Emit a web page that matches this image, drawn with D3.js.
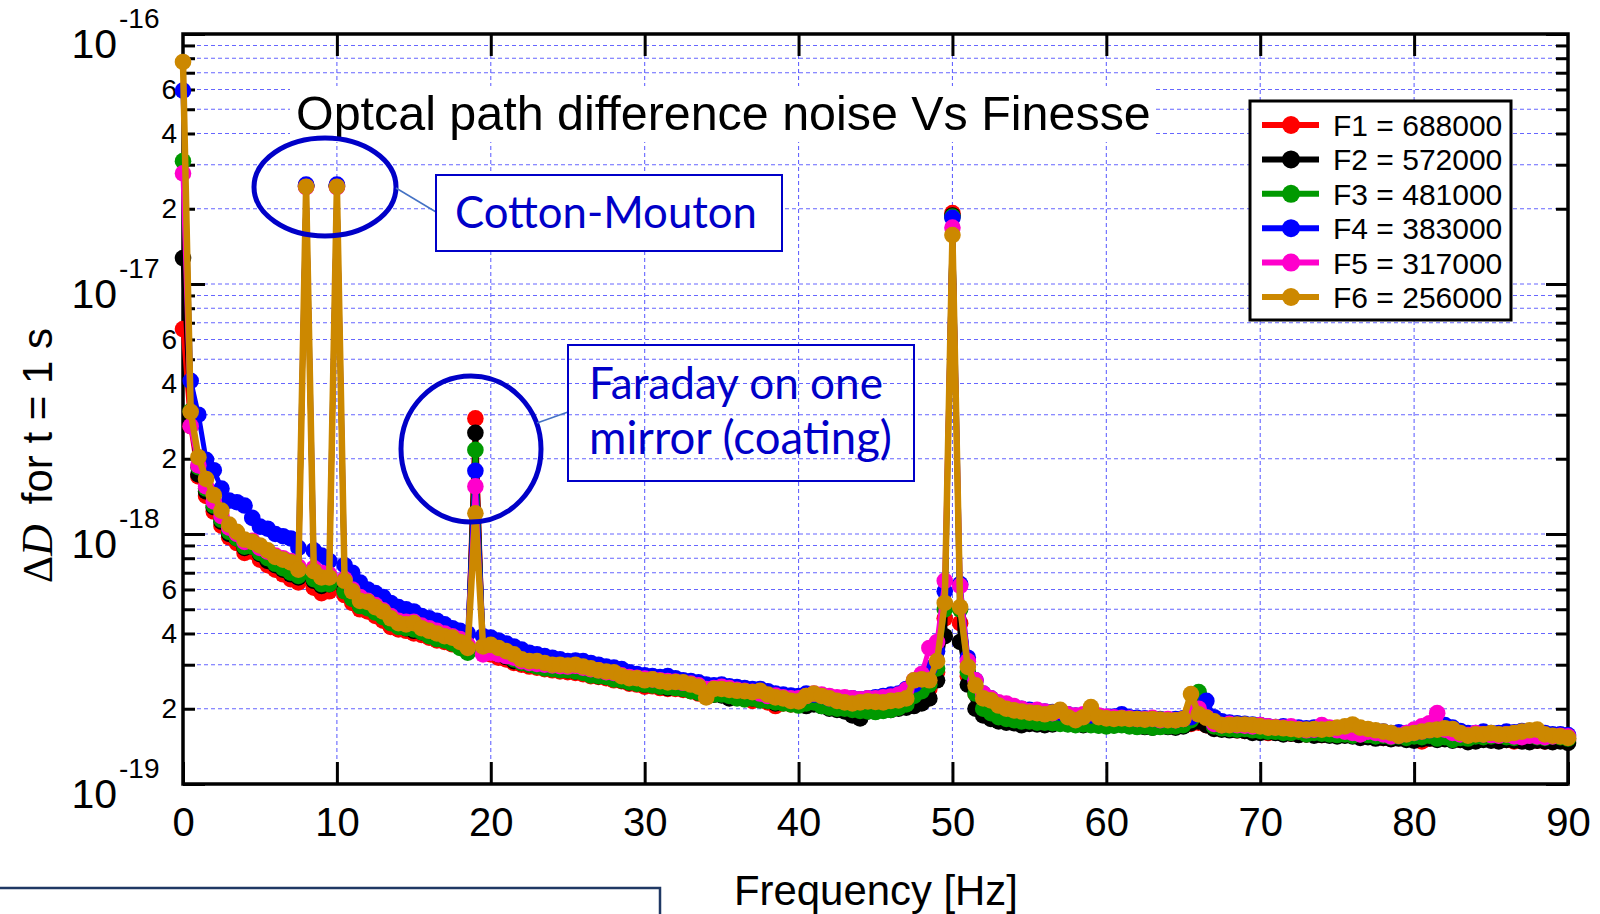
<!DOCTYPE html>
<html><head><meta charset="utf-8">
<script src="https://cdn.jsdelivr.net/npm/d3@7"></script>
<style>
body{margin:0;background:#fff;}
svg{display:block;font-family:Arial,"Liberation Sans",sans-serif;}
</style>
</head><body>
<svg id="chart" width="1600" height="914"></svg>
<script>
// ---------- data (values in units of 1e-19) ----------
const UNIT = 1e-19;
const frequencies = d3.range(0, 90.0001, 0.5); // sampling grid 0..90 Hz, 0.5 Hz step
const seriesNames = ["F1 = 688000","F2 = 572000","F3 = 481000","F4 = 383000","F5 = 317000","F6 = 256000"];
const seriesColors = ["#ff0000","#000000","#009900","#0000ff","#ff00cc","#cc8800"];
const xTicks = [0,10,20,30,40,50,60,70,80,90];
const yDecades = [1e-19,1e-18,1e-17,1e-16];
const yMinorLabels = [2,4,6];

const F1 = [
 66, 27, 17, 14.2, 12.3, 10.8, 9.7, 9.2, 8.4, 8.5,
 7.9, 7.5, 7.2, 6.9, 6.6, 6.4, 248, 6.1, 5.8, 5.9,
 248, 5.7, 5.3, 5.0, 4.9, 4.7, 4.5, 4.25, 4.15, 4.1,
 4.0, 3.95, 3.85, 3.75, 3.7, 3.62, 3.55, 3.4, 29, 3.35,
 3.3, 3.2, 3.15, 3.05, 3.0, 2.95, 2.92, 2.88, 2.85, 2.82,
 2.8, 2.78, 2.75, 2.7, 2.68, 2.65, 2.6, 2.58, 2.52, 2.5,
 2.45, 2.46, 2.42, 2.4, 2.4, 2.38, 2.35, 2.3, 2.25, 2.28,
 2.27, 2.25, 2.22, 2.2, 2.15, 2.18, 2.12, 2.05, 2.1, 2.08,
 2.07, 2.1, 2.12, 2.08, 2.05, 2.03, 2.0, 2.0, 2.02, 2.0,
 1.98, 2.0, 2.02, 2.05, 2.1, 2.15, 2.3, 2.4, 2.8, 4.6,
 192, 4.4, 2.7, 2.3, 2.1, 2.0, 1.95, 1.9, 1.88, 1.85,
 1.83, 1.82, 1.8, 1.8, 1.78, 1.77, 1.76, 1.75, 1.77, 1.76,
 1.75, 1.74, 1.74, 1.73, 1.72, 1.73, 1.72, 1.71, 1.72, 1.71,
 1.72, 1.74, 1.76, 1.72, 1.68, 1.66, 1.65, 1.64, 1.63, 1.63,
 1.62, 1.6, 1.61, 1.6, 1.59, 1.58, 1.58, 1.59, 1.57, 1.58,
 1.58, 1.57, 1.56, 1.57, 1.55, 1.54, 1.53, 1.52, 1.53, 1.52,
 1.5, 1.48, 1.52, 1.53, 1.52, 1.51, 1.5, 1.5, 1.52, 1.51,
 1.5, 1.49, 1.5, 1.48, 1.49, 1.5, 1.49, 1.48, 1.5, 1.49,
 1.5];
const F2 = [
 127, 29, 17.3, 14.8, 12.8, 11.2, 10.0, 9.6, 8.8, 8.9,
 8.3, 7.8, 7.5, 7.2, 6.9, 6.7, 246, 6.5, 6.2, 6.3,
 246, 6.0, 5.6, 5.2, 5.1, 4.9, 4.7, 4.45, 4.3, 4.2,
 4.1, 4.05, 3.95, 3.85, 3.8, 3.72, 3.6, 3.45, 25.4, 3.45,
 3.4, 3.3, 3.22, 3.1, 3.05, 3.0, 2.97, 2.92, 2.9, 2.88,
 2.85, 2.82, 2.8, 2.75, 2.7, 2.68, 2.65, 2.6, 2.55, 2.53,
 2.5, 2.5, 2.45, 2.42, 2.44, 2.4, 2.38, 2.32, 2.3, 2.28,
 2.26, 2.2, 2.24, 2.22, 2.2, 2.2, 2.15, 2.1, 2.12, 2.1,
 2.1, 2.05, 2.08, 2.05, 2.0, 1.98, 1.95, 1.88, 1.83, 1.95,
 1.95, 1.97, 1.98, 2.0, 2.02, 2.05, 2.1, 2.2, 2.6, 3.9,
 188, 3.7, 2.5, 2.0, 1.88, 1.82, 1.78, 1.76, 1.75, 1.72,
 1.74, 1.73, 1.72, 1.73, 1.75, 1.74, 1.73, 1.72, 1.74, 1.72,
 1.71, 1.72, 1.73, 1.72, 1.7, 1.69, 1.68, 1.7, 1.69, 1.68,
 1.7, 1.75, 1.78, 1.72, 1.66, 1.65, 1.64, 1.64, 1.63, 1.6,
 1.6, 1.61, 1.6, 1.58, 1.59, 1.57, 1.58, 1.56, 1.57, 1.56,
 1.55, 1.56, 1.55, 1.53, 1.54, 1.52, 1.53, 1.51, 1.52, 1.5,
 1.49, 1.51, 1.52, 1.5, 1.51, 1.49, 1.5, 1.47, 1.48, 1.5,
 1.49, 1.48, 1.5, 1.49, 1.48, 1.47, 1.49, 1.48, 1.47, 1.48,
 1.46];
const F3 = [
 310, 31, 18.5, 15.2, 13.0, 11.4, 10.2, 9.6, 8.9, 8.9,
 8.4, 8.0, 7.6, 7.3, 7.0, 6.8, 247, 6.6, 6.3, 6.3,
 247, 5.9, 5.5, 5.15, 5.05, 4.85, 4.65, 4.4, 4.25, 4.2,
 4.15, 4.05, 3.9, 3.8, 3.75, 3.65, 3.5, 3.35, 21.7, 3.4,
 3.45, 3.35, 3.25, 3.15, 3.05, 3.0, 2.95, 2.9, 2.88, 2.85,
 2.85, 2.82, 2.78, 2.72, 2.7, 2.68, 2.62, 2.6, 2.55, 2.52,
 2.5, 2.48, 2.45, 2.44, 2.42, 2.4, 2.35, 2.32, 2.3, 2.28,
 2.28, 2.25, 2.2, 2.18, 2.2, 2.16, 2.15, 2.12, 2.1, 2.08,
 2.06, 2.1, 2.12, 2.05, 2.02, 2.0, 2.0, 1.98, 1.96, 1.95,
 1.94, 1.96, 1.98, 2.02, 2.08, 2.25, 2.35, 2.5, 2.9, 5.0,
 186, 5.0, 2.8, 2.3, 2.0, 1.92, 1.85, 1.82, 1.8, 1.78,
 1.78, 1.76, 1.76, 1.75, 1.74, 1.73, 1.72, 1.73, 1.72, 1.71,
 1.7, 1.71, 1.72, 1.7, 1.69, 1.7, 1.68, 1.69, 1.7, 1.7,
 1.72, 1.8, 2.33, 1.9, 1.7, 1.67, 1.66, 1.65, 1.66, 1.64,
 1.63, 1.62, 1.62, 1.6, 1.6, 1.62, 1.58, 1.6, 1.59, 1.58,
 1.57, 1.58, 1.56, 1.58, 1.57, 1.55, 1.56, 1.54, 1.55, 1.53,
 1.55, 1.54, 1.56, 1.52, 1.54, 1.5, 1.53, 1.52, 1.55, 1.54,
 1.55, 1.56, 1.54, 1.53, 1.55, 1.56, 1.54, 1.53, 1.55, 1.54,
 1.52];
const F4 = [
 594, 41, 30, 19.8, 18, 15.2, 13.6, 13.4, 13.0, 11.6,
 10.7, 10.5, 10.0, 9.8, 9.6, 8.8, 250, 8.6, 8.2, 7.8,
 250, 7.5, 7.0, 6.4, 6.0, 5.8, 5.6, 5.3, 5.1, 5.0,
 4.9, 4.7, 4.6, 4.5, 4.35, 4.2, 4.1, 4.0, 17.9, 3.9,
 3.85, 3.75, 3.65, 3.55, 3.45, 3.35, 3.3, 3.25, 3.2, 3.15,
 3.1, 3.12, 3.1, 3.05, 3.0, 2.95, 2.92, 2.88, 2.8, 2.75,
 2.72, 2.7, 2.68, 2.7, 2.65, 2.6, 2.58, 2.55, 2.5, 2.48,
 2.5, 2.46, 2.44, 2.42, 2.4, 2.4, 2.35, 2.3, 2.28, 2.26,
 2.25, 2.3, 2.28, 2.25, 2.2, 2.18, 2.15, 2.2, 2.18, 2.2,
 2.22, 2.25, 2.28, 2.3, 2.4, 2.5, 2.65, 2.9, 3.4, 5.9,
 184, 6.3, 3.2, 2.6, 2.3, 2.2, 2.1, 2.05, 2.02, 2.0,
 1.98, 1.96, 1.95, 1.94, 1.93, 1.9, 1.88, 1.87, 1.88, 1.86,
 1.85, 1.86, 1.9, 1.85, 1.84, 1.83, 1.82, 1.82, 1.81, 1.82,
 1.83, 1.85, 2.0, 2.15, 1.85, 1.78, 1.76, 1.75, 1.74, 1.73,
 1.72, 1.7, 1.69, 1.7, 1.68, 1.68, 1.67, 1.68, 1.7, 1.67,
 1.66, 1.65, 1.66, 1.65, 1.64, 1.63, 1.62, 1.6, 1.61, 1.6,
 1.6, 1.62, 1.64, 1.68, 1.72, 1.68, 1.63, 1.6, 1.6, 1.62,
 1.6, 1.6, 1.62, 1.61, 1.63, 1.6, 1.6, 1.6, 1.58, 1.58,
 1.57];
const F5 = [
 277, 27, 18.8, 15.5, 13.5, 11.8, 10.6, 10.0, 9.3, 9.4,
 8.8, 8.5, 8.2, 8.0, 7.8, 7.4, 244, 7.3, 7.0, 6.9,
 244, 6.6, 6.0, 5.6, 5.4, 5.2, 4.95, 4.7, 4.5, 4.45,
 4.45, 4.3, 4.2, 4.1, 4.0, 3.9, 3.8, 3.6, 15.5, 3.3,
 3.35, 3.3, 3.25, 3.2, 3.1, 3.05, 3.02, 3.0, 2.98, 2.96,
 2.95, 2.97, 2.92, 2.88, 2.85, 2.8, 2.78, 2.72, 2.68, 2.66,
 2.64, 2.62, 2.6, 2.58, 2.57, 2.54, 2.52, 2.48, 2.4, 2.42,
 2.45, 2.42, 2.38, 2.36, 2.34, 2.3, 2.25, 2.26, 2.22, 2.2,
 2.2, 2.25, 2.3, 2.28, 2.25, 2.22, 2.22, 2.2, 2.18, 2.2,
 2.2, 2.22, 2.24, 2.28, 2.38, 2.6, 2.75, 3.5, 3.7, 6.5,
 168, 6.2, 3.1, 2.6, 2.3, 2.2, 2.12, 2.1, 2.05, 2.0,
 1.96, 1.98, 1.95, 1.92, 1.96, 1.9, 1.88, 1.9, 1.92, 1.88,
 1.86, 1.85, 1.84, 1.83, 1.82, 1.82, 1.84, 1.8, 1.82, 1.8,
 1.82, 1.95, 2.0, 1.85, 1.74, 1.72, 1.74, 1.72, 1.71, 1.7,
 1.72, 1.7, 1.69, 1.68, 1.7, 1.66, 1.64, 1.65, 1.72, 1.68,
 1.64, 1.62, 1.6, 1.58, 1.62, 1.6, 1.58, 1.55, 1.56, 1.6,
 1.65, 1.7, 1.75, 1.92, 1.65, 1.6, 1.58, 1.57, 1.6, 1.58,
 1.57, 1.56, 1.58, 1.55, 1.54, 1.56, 1.55, 1.54, 1.55, 1.56,
 1.55];
const F6 = [
 773, 30.8, 20.3, 16.6, 14.3, 12.4, 10.9, 10.2, 9.5, 9.3,
 9.0, 8.6, 8.1, 7.9, 7.7, 7.2, 245, 7.1, 6.7, 6.7,
 245, 6.5, 5.9, 5.4, 5.35, 5.1, 4.9, 4.6, 4.4, 4.35,
 4.4, 4.2, 4.1, 4.0, 3.9, 3.85, 3.7, 3.5, 12.1, 3.55,
 3.6, 3.5, 3.4, 3.3, 3.15, 3.1, 3.1, 3.05, 3.0, 3.0,
 2.98, 3.0, 2.95, 2.9, 2.85, 2.82, 2.8, 2.7, 2.65, 2.65,
 2.6, 2.62, 2.58, 2.55, 2.56, 2.55, 2.5, 2.45, 2.22, 2.4,
 2.4, 2.38, 2.36, 2.35, 2.33, 2.36, 2.28, 2.22, 2.2, 2.15,
 2.14, 2.25, 2.3, 2.25, 2.2, 2.15, 2.12, 2.1, 2.12, 2.14,
 2.13, 2.12, 2.15, 2.16, 2.2, 2.6, 2.62, 2.6, 3.1, 5.3,
 157, 5.1, 2.94, 2.48, 2.2, 2.16, 2.06, 2.0, 1.97, 1.95,
 1.93, 1.92, 1.9, 1.93, 1.98, 1.85, 1.8, 1.85, 2.03, 1.85,
 1.83, 1.82, 1.83, 1.82, 1.82, 1.81, 1.82, 1.81, 1.8, 1.8,
 1.82, 2.29, 1.9, 1.84, 1.78, 1.72, 1.72, 1.73, 1.73, 1.72,
 1.7, 1.68, 1.68, 1.67, 1.66, 1.65, 1.65, 1.66, 1.65, 1.66,
 1.68, 1.7, 1.73, 1.68, 1.66, 1.64, 1.62, 1.6, 1.56, 1.58,
 1.6, 1.62, 1.64, 1.65, 1.67, 1.66, 1.6, 1.56, 1.58, 1.58,
 1.6, 1.58, 1.58, 1.6, 1.62, 1.64, 1.65, 1.58, 1.56, 1.55,
 1.53];
const seriesValues = [F1, F2, F3, F4, F5, F6];

// ---------- layout ----------
const svg = d3.select("#chart");
const L = 183, R = 1568, T = 34, B = 784;
const x = d3.scaleLinear().domain([0, 90]).range([L, R]);
const y = d3.scaleLog().domain([1e-19, 1e-16]).range([B, T]);

const minorVals = [];
yDecades.slice(0, 3).forEach(d => { for (let k = 2; k <= 9; k++) minorVals.push(d * k); });
const gridY = minorVals.concat([1e-18, 1e-17]);

// gridlines
const grid = svg.append("g").attr("stroke", "#6666ff").attr("stroke-width", 1.1).attr("stroke-dasharray", "4 3");
grid.selectAll(".gy").data(gridY).join("line")
  .attr("x1", L).attr("x2", R).attr("y1", d => y(d)).attr("y2", d => y(d));
grid.selectAll(".gx").data(xTicks.slice(1, -1)).join("line")
  .attr("x1", d => x(d)).attr("x2", d => x(d)).attr("y1", T).attr("y2", B);

// axes (ticks inward)
function styleAxis(g){ g.select(".domain").remove(); g.selectAll(".tick line").attr("stroke","#000").attr("stroke-width",3); }
svg.append("g").attr("transform", `translate(0,${B})`)
  .call(d3.axisBottom(x).tickValues(xTicks).tickSizeInner(-22).tickSizeOuter(0).tickPadding(24).tickFormat(d3.format("d")))
  .call(styleAxis)
  .call(g => g.selectAll(".tick text").attr("font-size", 40).attr("font-family", "Arial, 'Liberation Sans', sans-serif").attr("fill", "#000"));
svg.append("g").attr("transform", `translate(0,${T})`)
  .call(d3.axisTop(x).tickValues(xTicks.slice(1, -1)).tickSizeInner(-22).tickSizeOuter(0).tickFormat(""))
  .call(styleAxis);
svg.append("g").attr("transform", `translate(${L},0)`)
  .call(d3.axisLeft(y).tickValues(yDecades).tickSizeInner(-22).tickSizeOuter(0).tickFormat(""))
  .call(styleAxis);
svg.append("g").attr("transform", `translate(${L},0)`)
  .call(d3.axisLeft(y).tickValues(minorVals).tickSizeInner(-12).tickSizeOuter(0).tickPadding(6)
    .tickFormat(d => { const m = Math.round(d / Math.pow(10, Math.floor(Math.log10(d) + 1e-9))); return yMinorLabels.includes(m) ? String(m) : ""; }))
  .call(styleAxis)
  .call(g => g.selectAll(".tick text").attr("font-size", 28).attr("font-family", "Arial, 'Liberation Sans', sans-serif").attr("fill", "#000"));
svg.append("g").attr("transform", `translate(${R},0)`)
  .call(d3.axisRight(y).tickValues(yDecades).tickSizeInner(-22).tickSizeOuter(0).tickFormat(""))
  .call(styleAxis);
svg.append("g").attr("transform", `translate(${R},0)`)
  .call(d3.axisRight(y).tickValues(minorVals).tickSizeInner(-12).tickSizeOuter(0).tickFormat(""))
  .call(styleAxis);

// decade labels 10^n
const dec = svg.append("g");
yDecades.forEach(d => {
  const yy = y(d);
  dec.append("text").attr("x", 117).attr("y", yy + 24).attr("text-anchor", "end").attr("font-size", 41).text("10");
  dec.append("text").attr("x", 119).attr("y", yy - 6).attr("font-size", 28).text(String(Math.round(Math.log10(d))));
});

// frame
svg.append("rect").attr("x", L).attr("y", T).attr("width", R - L).attr("height", B - T)
  .attr("fill", "none").attr("stroke", "#000").attr("stroke-width", 3.5);

// series
const line = d3.line().x((d, i) => x(frequencies[i])).y(d => y(d * UNIT));
seriesValues.forEach((vals, s) => {
  const g = svg.append("g");
  g.append("path").attr("d", line(vals)).attr("fill", "none").attr("stroke", seriesColors[s])
    .attr("stroke-width", s === 5 ? 6.5 : 5).attr("stroke-linejoin", "round");
  g.selectAll("circle").data(vals).join("circle")
    .attr("cx", (d, i) => x(frequencies[i])).attr("cy", d => y(d * UNIT)).attr("r", 8.3)
    .attr("fill", seriesColors[s]);
});

// helper: fit text to width by scaling font size
function fit(sel, w){ const len = sel.node().getComputedTextLength(); const fs = parseFloat(sel.attr("font-size")); sel.attr("font-size", fs * w / len); return sel; }

// title
svg.append("rect").attr("x", 290).attr("y", 86).attr("width", 866).attr("height", 56).attr("fill", "#fff");
fit(svg.append("text").attr("x", 296).attr("y", 130).attr("font-size", 44).text("Optcal path difference noise Vs Finesse"), 855);

// annotations
const blue = "#0000c8";
const annFont = "Lato, 'Open Sans', sans-serif";
svg.append("ellipse").attr("cx", 325).attr("cy", 187).attr("rx", 71).attr("ry", 49)
  .attr("fill", "none").attr("stroke", blue).attr("stroke-width", 5);
svg.append("line").attr("x1", 396).attr("y1", 188).attr("x2", 436).attr("y2", 212).attr("stroke", "#4472c4").attr("stroke-width", 1.5);
svg.append("rect").attr("x", 436).attr("y", 175).attr("width", 346).attr("height", 76)
  .attr("fill", "#fff").attr("stroke", blue).attr("stroke-width", 2);
fit(svg.append("text").attr("x", 455).attr("y", 228).attr("font-size", 43).attr("font-family", annFont).attr("fill", blue).text("Cotton-Mouton"), 302);

svg.append("ellipse").attr("cx", 471).attr("cy", 449).attr("rx", 70).attr("ry", 73)
  .attr("fill", "none").attr("stroke", blue).attr("stroke-width", 5);
svg.append("line").attr("x1", 537).attr("y1", 423).attr("x2", 568).attr("y2", 412).attr("stroke", "#4472c4").attr("stroke-width", 1.5);
svg.append("rect").attr("x", 568).attr("y", 345).attr("width", 346).attr("height", 136)
  .attr("fill", "none").attr("stroke", blue).attr("stroke-width", 2);
fit(svg.append("text").attr("x", 589).attr("y", 399).attr("font-size", 43).attr("font-family", annFont).attr("fill", blue).text("Faraday on one"), 294);
fit(svg.append("text").attr("x", 589).attr("y", 454).attr("font-size", 43).attr("font-family", annFont).attr("fill", blue).text("mirror (coating)"), 303);

// legend
const lg = svg.append("g");
lg.append("rect").attr("x", 1250).attr("y", 101).attr("width", 261).attr("height", 219)
  .attr("fill", "#fff").attr("stroke", "#000").attr("stroke-width", 3);
seriesNames.forEach((n, i) => {
  const yy = 125 + i * 34.4;
  lg.append("line").attr("x1", 1262).attr("x2", 1319).attr("y1", yy).attr("y2", yy).attr("stroke", seriesColors[i]).attr("stroke-width", 6);
  lg.append("circle").attr("cx", 1291).attr("cy", yy).attr("r", 9).attr("fill", seriesColors[i]);
  lg.append("text").attr("x", 1333).attr("y", yy + 11).attr("font-size", 30).text(n);
});

// axis titles
fit(svg.append("text").attr("x", 734).attr("y", 905).attr("font-size", 40).text("Frequency [Hz]"), 284);
const yl = svg.append("text").attr("transform", "translate(52,583) rotate(-90)").attr("font-size", 42);
yl.append("tspan").attr("font-family", "'Liberation Serif', 'DejaVu Serif', serif").attr("font-size", 42).text("Δ");
yl.append("tspan").attr("font-family", "'Liberation Serif', 'DejaVu Serif', serif").attr("font-style", "italic").attr("font-size", 44).text("D");
yl.append("tspan").attr("dx", 20).text("for t = 1 s");

// bottom-left frame fragment
svg.append("rect").attr("x", -10).attr("y", 888).attr("width", 670).attr("height", 60)
  .attr("fill", "none").attr("stroke", "#203864").attr("stroke-width", 2.5);
</script>
</body></html>
